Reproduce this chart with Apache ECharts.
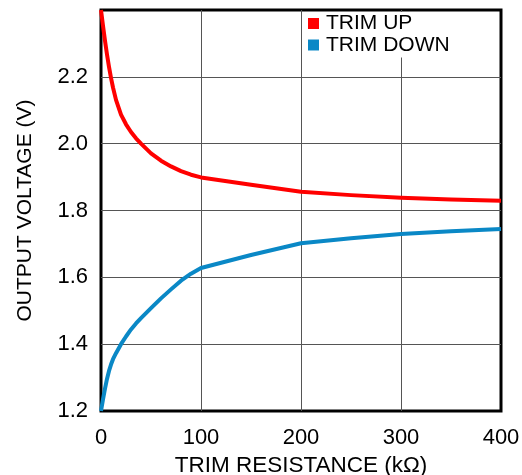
<!DOCTYPE html>
<html>
<head>
<meta charset="utf-8">
<script src="https://cdn.jsdelivr.net/npm/echarts@6/dist/echarts.min.js"></script>
<style>html,body{margin:0;padding:0;background:#fff}#c{width:522px;height:475px}</style>
</head>
<body>
<div id="c"></div>
<script>
var upResistance = [0, 2, 4, 6, 8, 10, 12, 15, 20, 25, 30, 35, 40, 50, 60, 70, 80, 90, 100, 150, 200, 250, 300, 350, 400];
var trimUp       = [2.40, 2.353, 2.308, 2.267, 2.230, 2.197, 2.168, 2.131, 2.087, 2.058, 2.035, 2.016, 2.0, 1.971, 1.949, 1.932, 1.918, 1.907, 1.899, 1.877, 1.856, 1.846, 1.838, 1.833, 1.829];
var downResistance = [0, 2, 4, 6, 8, 10, 12, 15, 20, 25, 30, 35, 40, 45, 50, 60, 70, 80, 90, 100, 150, 200, 250, 300, 350, 400];
var trimDown       = [1.20, 1.235, 1.267, 1.296, 1.320, 1.339, 1.355, 1.373, 1.40, 1.423, 1.444, 1.462, 1.478, 1.493, 1.508, 1.537, 1.564, 1.590, 1.611, 1.628, 1.667, 1.702, 1.717, 1.730, 1.738, 1.745];
var xTicks = [0, 100, 200, 300, 400];
var yTicks = [1.2, 1.4, 1.6, 1.8, 2.0, 2.2];

function pairs(xs, ys){ return xs.map(function(x,i){ return [x, ys[i]]; }); }

var chart = echarts.init(document.getElementById('c'));
var font = 'Liberation Sans, Arial, sans-serif';
chart.setOption({
  animation: false,
  backgroundColor: '#fff',
  grid: { left: 101, right: 21, top: 10, bottom: 64, show: true, borderColor: '#000', borderWidth: 3,
          backgroundColor: 'transparent', containLabel: false, outerBoundsMode: 'none' },
  legend: {
    orient: 'vertical', left: 305, top: 12,
    icon: 'rect', itemWidth: 11, itemHeight: 11, itemGap: 0.5,
    backgroundColor: '#fff',
    padding: [1, 12, 2, 3],
    textStyle: { fontFamily: font, fontSize: 21, color: '#000', padding: [0,0,0,2], lineHeight: 21 },
    data: ['TRIM UP', 'TRIM DOWN']
  },
  xAxis: {
    type: 'value', min: 0, max: 400, interval: 100,
    name: 'TRIM RESISTANCE (kΩ)', nameLocation: 'middle', nameGap: 41,
    nameTextStyle: { fontFamily: font, fontSize: 22.5, color: '#000' },
    axisLine: { show: false }, axisTick: { show: false },
    axisLabel: { fontFamily: font, fontSize: 22, color: '#000', margin: 16,
      formatter: function(v){ return xTicks.indexOf(v) >= 0 ? String(v) : ''; } },
    splitLine: { show: true, showMinLine: false, showMaxLine: false, lineStyle: { color: '#555', width: 1 } }
  },
  yAxis: {
    type: 'value', min: 1.2, max: 2.4, interval: 0.2,
    name: 'OUTPUT VOLTAGE (V)', nameLocation: 'middle', nameGap: 65,
    nameTextStyle: { fontFamily: font, fontSize: 21, color: '#000' },
    axisLine: { show: false }, axisTick: { show: false },
    axisLabel: { fontFamily: font, fontSize: 22, color: '#000', margin: 13,
      formatter: function(v){
        for (var i = 0; i < yTicks.length; i++) if (Math.abs(yTicks[i]-v) < 1e-6) return yTicks[i].toFixed(1);
        return '';
      } },
    splitLine: { show: true, showMinLine: false, showMaxLine: false, lineStyle: { color: '#555', width: 1 } }
  },
  series: [
    { name: 'TRIM UP', type: 'line', data: pairs(upResistance, trimUp), smooth: false, showSymbol: false,
      lineStyle: { color: '#ff0000', width: 4, join: 'round' }, itemStyle: { color: '#ff0000' } },
    { name: 'TRIM DOWN', type: 'line', data: pairs(downResistance, trimDown), smooth: false, showSymbol: false,
      lineStyle: { color: '#0a88c6', width: 4, join: 'round' }, itemStyle: { color: '#0a88c6' } }
  ]
});
</script>
</body>
</html>
